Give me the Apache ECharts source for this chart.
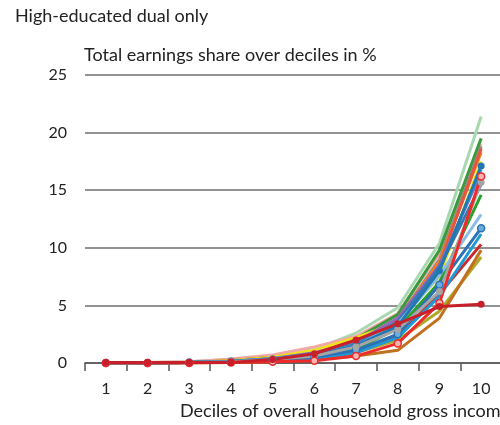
<!DOCTYPE html>
<html>
<head>
<meta charset="utf-8">
<script src="https://cdn.jsdelivr.net/npm/echarts@6/dist/echarts.min.js"></script>
<style>
  html, body { margin: 0; padding: 0; background: #fff; }
  #chart { width: 500px; height: 425px; }
</style>
</head>
<body>
<div id="chart"></div>
<script>
// 十分位类别
const deciles = ['1', '2', '3', '4', '5', '6', '7', '8', '9', '10']

// 各条线（收入份额 %），按绘制顺序排列，后画的在上层
const lightGreen = [0.05, 0.05, 0.1, 0.3, 0.6, 1.2, 2.6, 4.8, 10.4, 21.4]
const pink       = [0.05, 0.05, 0.1, 0.35, 0.7, 1.4, 2.3, 4.3, 9.5, 19.0]
const darkGreen  = [0, 0, 0.05, 0.2, 0.5, 1.0, 2.1, 4.2, 9.8, 19.5]
const grayLine   = [0, 0, 0.05, 0.15, 0.4, 0.8, 1.7, 3.8, 9.0, 18.8]
const orange     = [0, 0, 0.05, 0.2, 0.5, 1.0, 1.9, 3.8, 8.8, 18.3]
const redLine    = [0, 0, 0.05, 0.15, 0.4, 0.9, 1.8, 3.6, 8.5, 18.6]
const yellow     = [0, 0, 0.05, 0.2, 0.5, 1.1, 2.2, 3.5, 7.5, 17.5]
const purple     = [0, 0, 0.05, 0.15, 0.4, 0.9, 1.8, 3.9, 8.5, 16.5]
const midBlue    = [0, 0, 0.05, 0.15, 0.4, 0.8, 1.7, 3.5, 8.2, 16.8]
const steelBlue  = [0, 0, 0.05, 0.1, 0.3, 0.7, 1.6, 3.6, 8.3, 15.5]
const green      = [0, 0, 0.05, 0.1, 0.3, 0.6, 1.2, 3.0, 7.0, 14.6]
const lightBlue  = [0, 0, 0.05, 0.15, 0.35, 0.7, 1.5, 3.4, 7.6, 12.9]
const olive      = [0, 0, 0.05, 0.1, 0.2, 0.4, 0.9, 2.0, 4.5, 9.2]
const brown      = [0, 0, 0, 0.05, 0.1, 0.3, 0.6, 1.1, 3.9, 9.8]
const darkRed    = [0, 0, 0.05, 0.1, 0.2, 0.4, 0.9, 2.3, 6.0, 10.3]
const cyanBlue   = [0.05, 0.05, 0.05, 0.1, 0.2, 0.4, 0.9, 2.2, 5.8, 11.2]
const blueMark   = [0, 0, 0.05, 0.1, 0.25, 0.5, 1.1, 2.5, 6.8, 11.7]
const blueMark2  = [0, 0, 0.05, 0.15, 0.35, 0.7, 1.5, 3.2, 8.0, 17.1]
const grayMark   = [0, 0, 0.05, 0.1, 0.3, 0.6, 1.4, 2.9, 6.2, 15.7]
const redHollow  = [0, 0, 0, 0.05, 0.1, 0.2, 0.6, 1.7, 5.2, 16.2]
const redFilled  = [0.05, 0.05, 0.05, 0.05, 0.3, 0.8, 2.0, 3.4, 4.9, 5.1]

// 刻度
const yTicks = { min: 0, max: 25, interval: 5 }

const FONT = 'Lato'

// 普通折线（无标记）
function plain(data, color) {
  return {
    type: 'line', data, showSymbol: false,
    lineStyle: { color, width: 3 }, itemStyle: { color }
  }
}
// 带圆点标记的折线
function marked(data, color, fill) {
  return {
    type: 'line', data, symbol: 'circle', symbolSize: 7,
    lineStyle: { color, width: 3 },
    itemStyle: { color: fill || color, borderColor: color, borderWidth: fill ? 1.5 : 0 }
  }
}

const chart = echarts.init(document.getElementById('chart'))
chart.setOption({
  animation: false,
  graphic: [
    { type: 'text', left: 15, top: 7, style: { text: 'High-educated dual only', font: `18px ${FONT}`, fill: '#222' } },
    { type: 'text', left: 84, top: 46, style: { text: 'Total earnings share over deciles in %', font: `18px ${FONT}`, fill: '#222' } },
    { type: 'text', left: 180, top: 402, style: { text: 'Deciles of overall household gross income', font: `18px ${FONT}`, fill: '#222' } }
  ],
  grid: { left: 85, top: 75, width: 417, height: 288, outerBoundsMode: 'none' },
  xAxis: {
    type: 'category',
    data: deciles,
    boundaryGap: true,
    axisLine: { lineStyle: { color: '#555', width: 1.5 } },
    axisTick: { show: true, length: 8, lineStyle: { color: '#555', width: 1.5 } },
    axisLabel: { color: '#222', fontSize: 16, fontFamily: FONT, margin: 18 }
  },
  yAxis: {
    type: 'value',
    min: yTicks.min, max: yTicks.max, interval: yTicks.interval,
    axisLine: { show: false },
    axisTick: { show: false },
    axisLabel: { color: '#222', fontSize: 16, fontFamily: FONT, margin: 18 },
    splitLine: { lineStyle: { color: '#6e6e6e', width: 1.5 } }
  },
  series: [
    plain(lightGreen, '#a8d8b0'),
    plain(pink, '#f2a7a7'),
    plain(darkGreen, '#3b9a3e'),
    plain(grayLine, '#8c8c8c'),
    plain(orange, '#ff7f0e'),
    plain(redLine, '#e8553f'),
    plain(yellow, '#f2e21e'),
    plain(purple, '#9467bd'),
    plain(midBlue, '#4a90d0'),
    plain(steelBlue, '#3a78b0'),
    plain(green, '#2ca02c'),
    plain(lightBlue, '#8cbde6'),
    plain(olive, '#b0a82a'),
    plain(brown, '#c0701e'),
    plain(darkRed, '#c8282e'),
    plain(cyanBlue, '#1f9ad6'),
    marked(blueMark, '#2a72b5', '#6aaee0'),
    marked(blueMark2, '#1f77b4'),
    marked(grayMark, '#a5a5a5'),
    marked(redHollow, '#ee2b2b', '#f5b5b0'),
    marked(redFilled, '#c8202a')
  ]
})
</script>
</body>
</html>
